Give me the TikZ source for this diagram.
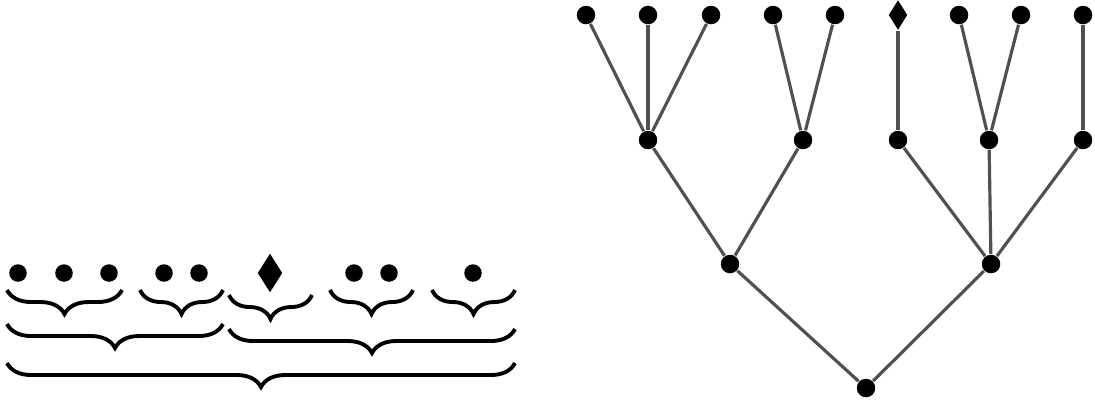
\documentclass[tikz,border=0pt]{standalone}
\usetikzlibrary{shapes.geometric,decorations.pathreplacing}
\definecolor{edgegray}{RGB}{80,80,80}
\tikzset{
  leaf/.style={circle, fill=black, inner sep=0pt, minimum size=0.185cm},
  gem/.style={diamond, fill=black, inner sep=0pt, minimum width=0.19cm, minimum height=0.30cm},
  bigleaf/.style={circle, fill=black, inner sep=0pt, minimum size=0.175cm},
  biggem/.style={diamond, fill=black, inner sep=0pt, minimum width=0.25cm, minimum height=0.39cm},
  edge/.style={draw=edgegray, line width=0.9pt},
  ubrace/.style={decorate, decoration={brace, mirror, amplitude=0.24cm}, line width=1.1pt}
}
\begin{document}
\begin{tikzpicture}[x=0.01cm, y=-0.01cm]
  \useasboundingbox (0,0) rectangle (1095,402);
  % leaves as a bracketing
  \node[bigleaf] (l1) at (18,273) {};
  \node[bigleaf] (l2) at (64,273) {};
  \node[bigleaf] (l3) at (109,273) {};
  \node[bigleaf] (l4) at (164,273) {};
  \node[bigleaf] (l5) at (199,273) {};
  \node[biggem] (l6) at (270,273) {};
  \node[bigleaf] (l7) at (354,273) {};
  \node[bigleaf] (l8) at (389,273) {};
  \node[bigleaf] (l9) at (473,273) {};
  \coordinate (b1a) at (7,290);   \coordinate (b1b) at (122,290);
  \coordinate (b2a) at (140,290); \coordinate (b2b) at (223,290);
  \coordinate (b3a) at (229,295); \coordinate (b3b) at (312,295);
  \coordinate (b4a) at (330,290); \coordinate (b4b) at (413,290);
  \coordinate (b5a) at (432,290); \coordinate (b5b) at (515,290);
  \coordinate (c1a) at (7,324);   \coordinate (c1b) at (223,324);
  \coordinate (c2a) at (229,329); \coordinate (c2b) at (515,329);
  \coordinate (d1a) at (7,363);   \coordinate (d1b) at (515,363);
  \foreach \p in {b1, b2, b3, b4, b5, c1, c2, d1}
    \draw[ubrace] (\p a) -- (\p b);
  % the same bracketing as a tree
  \node[leaf] (t1) at (586,15) {};
  \node[leaf] (t2) at (648,15) {};
  \node[leaf] (t3) at (711,15) {};
  \node[leaf] (t4) at (773,15) {};
  \node[leaf] (t5) at (835,15) {};
  \node[gem] (t6) at (898,15) {};
  \node[leaf] (t7) at (959,15) {};
  \node[leaf] (t8) at (1021,15) {};
  \node[leaf] (t9) at (1083,15) {};
  \node[leaf] (m1) at (648,140) {};
  \node[leaf] (m2) at (803,140) {};
  \node[leaf] (m3) at (898,140) {};
  \node[leaf] (m4) at (989,140) {};
  \node[leaf] (m5) at (1083,140) {};
  \node[leaf] (h1) at (730,264) {};
  \node[leaf] (h2) at (991,264) {};
  \node[leaf] (root) at (866,388) {};
  \foreach \a/\b in {m1/t1, m1/t2, m1/t3, m2/t4, m2/t5, m3/t6, m4/t7, m4/t8, m5/t9,
                     h1/m1, h1/m2, h2/m3, h2/m4, h2/m5, root/h1, root/h2}
    \draw[edge] (\a) -- (\b);
\end{tikzpicture}
\end{document}
